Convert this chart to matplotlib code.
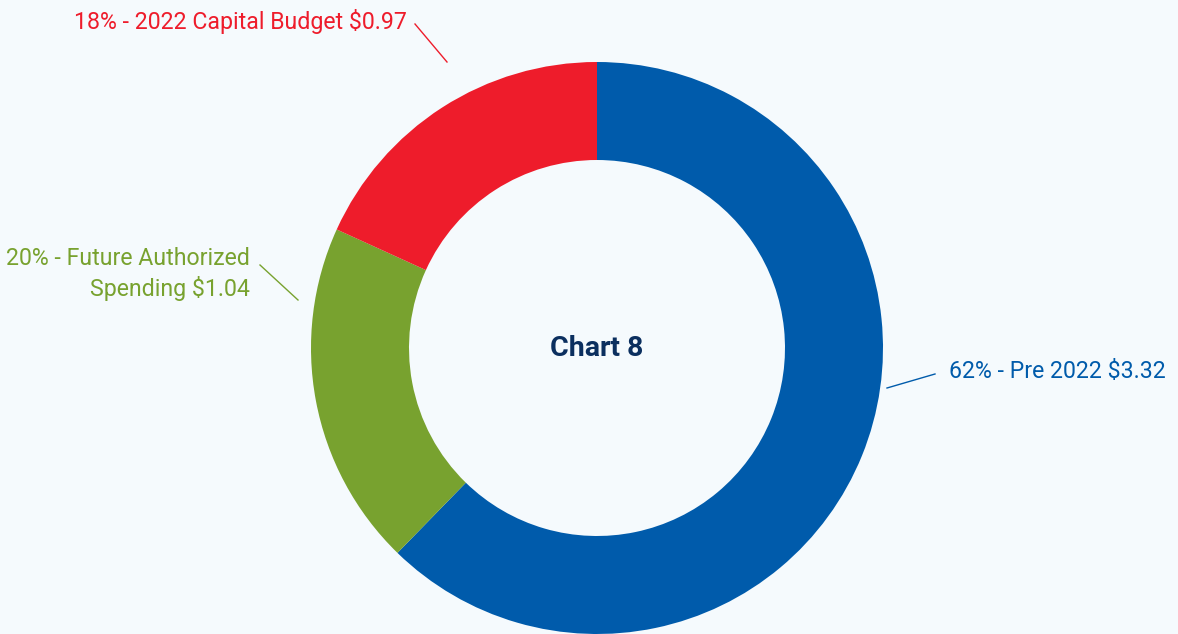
import matplotlib
matplotlib.use("Agg")
import matplotlib.pyplot as plt
from matplotlib import font_manager

labels = ["Pre 2022", "Future Authorized\nSpending", "2022 Capital Budget"]
values = [3.32, 1.04, 0.97]
percents = [62, 20, 18]
colors = ["#005bab", "#78a22f", "#ee1c2b"]
title = "Chart 8"

names = {f.name for f in font_manager.fontManager.ttflist}
fam = "Roboto" if "Roboto" in names else "Liberation Sans"
plt.rcParams["font.family"] = [fam, "DejaVu Sans"]

W, H = 1178, 634
bg = "#f5fafd"
fig = plt.figure(figsize=(W / 100, H / 100), dpi=100, facecolor=bg)
ax = fig.add_axes([0, 0, 1, 1])
ax.set_facecolor(bg)

cx, cy, R = 597, 348, 286
# y axis is inverted, so counterclock=True renders clockwise on screen; start at top
ax.pie(values, colors=colors, startangle=-90, counterclock=True, center=(cx, cy),
       radius=R, wedgeprops=dict(width=98, linewidth=0), frame=True)
ax.set_xlim(0, W)
ax.set_ylim(H, 0)
ax.set_aspect("equal")
ax.axis("off")

texts = [f"{p}% - {l} ${v:.2f}" for p, l, v in zip(percents, labels, values)]
texts[1] = f"{percents[1]}% - Future Authorized\nSpending ${values[1]:.2f}"

fs = 19
t_blue = ax.text(949, 371, texts[0], color=colors[0], fontsize=fs, ha="left", va="center")
ax.plot([887, 935], [388, 374], color=colors[0], lw=1)
t_green = ax.text(250, 274, texts[1], color=colors[1], fontsize=fs, ha="right", va="center",
                  linespacing=1.3, multialignment="right")
ax.plot([260, 298], [265, 300], color=colors[1], lw=1)
t_red = ax.text(407, 21, texts[2], color=colors[2], fontsize=fs, ha="right", va="center")
ax.plot([415, 447], [24, 62], color=colors[2], lw=1)

# fit font size so label widths match the reference layout
fig.canvas.draw()
r = fig.canvas.get_renderer()
w = t_red.get_window_extent(r).width
new_fs = fs * 332 / w
for t in (t_blue, t_green, t_red):
    t.set_fontsize(new_fs)

ax.text(cx, 349, title, color="#0b2f5f", fontsize=20.5, fontweight="bold", ha="center", va="center")

fig.savefig("out.png", dpi=100, facecolor=bg)
